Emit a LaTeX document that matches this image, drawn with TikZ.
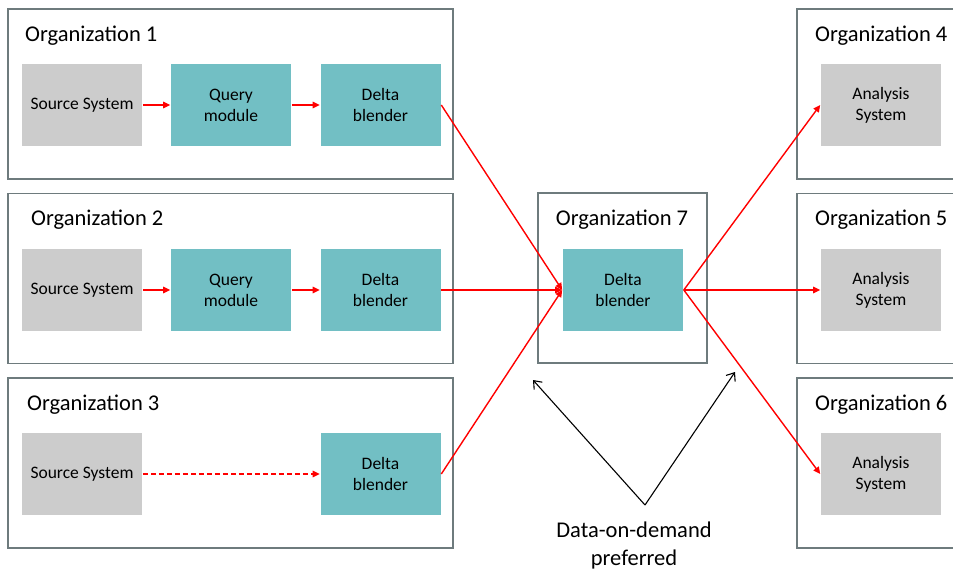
\documentclass[tikz,border=0pt]{standalone}
\usepackage{fontspec}
\setmainfont{Carlito}
\usetikzlibrary{arrows.meta}
\definecolor{teal1}{HTML}{72BFC4}
\definecolor{gray1}{HTML}{CCCCCC}
\definecolor{orgline}{HTML}{6E7B7D}
\definecolor{red1}{HTML}{FF0000}
\tikzset{
  org/.style={draw=orgline, line width=1.2pt, fill=white, minimum width=#1, minimum height=170pt, inner sep=0pt},
  org/.default=445pt,
  title/.style={anchor=west, font=\fontsize{22.5}{27}\selectfont, text=black, inner sep=0pt},
  tbox/.style={fill=teal1, draw=white, line width=0.6pt, minimum width=121pt, minimum height=83pt, align=center, font=\fontsize{17.5}{21}\selectfont, inner sep=0pt},
  gbox/.style={fill=gray1, draw=white, line width=0.6pt, minimum width=121pt, minimum height=83pt, align=center, font=\fontsize{17.5}{21}\selectfont, inner sep=0pt},
  flow/.style={draw=red1, line width=1.4pt, -{Triangle[length=7pt,width=6.5pt]}},
  note/.style={draw=black, line width=1.1pt, -{Straight Barb[length=7pt,width=11pt]}},
}
\begin{document}
\begin{tikzpicture}[x=1pt,y=-1pt]
\useasboundingbox (0,0) rectangle (953,569);
% organization boxes
\node[org] (o1) at (230.5,94) {};
\node[org] (o2) at (230.5,278.5) {};
\node[org] (o3) at (230.5,463) {};
\node[org=169pt] (o7) at (622.5,278) {};
\node[org=162pt] (o4) at (878,94) {};
\node[org=162pt] (o5) at (878,278.5) {};
\node[org=162pt] (o6) at (878,463) {};
% titles
\node[title] (t1) at (25,36) {Organization 1};
\node[title] (t2) at (31,220) {Organization 2};
\node[title] (t3) at (27,405) {Organization 3};
\node[title, anchor=center] (t7) at (622,220) {Organization 7};
\node[title] (t4) at (815,36) {Organization 4};
\node[title] (t5) at (815,220) {Organization 5};
\node[title] (t6) at (815,405) {Organization 6};
% row 1
\node[gbox] (s1) at (82,105) {\raisebox{-2pt}{Source System}};
\node[tbox] (q1) at (231,105) {Query\\module};
\node[tbox] (d1) at (380.5,105) {Delta\\blender};
% row 2
\node[gbox] (s2) at (82,290) {\raisebox{-2pt}{Source System}};
\node[tbox] (q2) at (231,290) {Query\\module};
\node[tbox] (d2) at (380.5,290) {Delta\\blender};
% row 3
\node[gbox] (s3) at (82,474) {\raisebox{-2pt}{Source System}};
\node[tbox] (d3) at (380.5,474) {Delta\\blender};
% org 7
\node[tbox] (d7) at (623,290) {Delta\\blender};
% analysis
\node[gbox] (a4) at (881,105) {Analysis\\System};
\node[gbox] (a5) at (881,290) {Analysis\\System};
\node[gbox] (a6) at (881,474) {Analysis\\System};
% flows
\draw[flow] (s1) -- (q1);
\draw[flow] (q1) -- (d1);
\draw[flow] (s2) -- (q2);
\draw[flow] (q2) -- (d2);
\draw[flow, dash pattern=on 5pt off 3pt] (s3) -- (d3);
\draw[flow] (d1.east) -- (d7.west);
\draw[flow] (d2.east) -- (d7.west);
\draw[flow] (d3.east) -- (d7.west);
\draw[flow] (d7.east) -- (a4.west);
\draw[flow] (d7.east) -- (a5.west);
\draw[flow] (d7.east) -- (a6.west);
% note
\coordinate (v) at (645,505);
\coordinate (nl) at (533,380);
\coordinate (nr) at (735,372);
\draw[note] (v) -- (nl);
\draw[note] (v) -- (nr);
\node[align=center, font=\fontsize{22.5}{28}\selectfont, inner sep=0pt] (dod) at (634,545) {Data-on-demand\\preferred};
\end{tikzpicture}
\end{document}
